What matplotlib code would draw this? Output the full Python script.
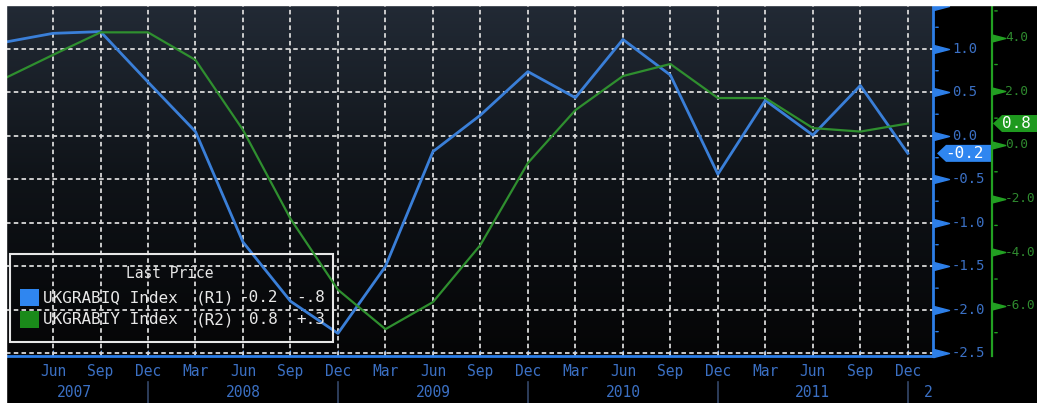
import numpy as np
import matplotlib
matplotlib.use("Agg")
import matplotlib.pyplot as plt
import matplotlib.transforms as mtransforms
from matplotlib.patches import Rectangle, Polygon
from matplotlib.path import Path
from matplotlib.spines import Spine
from matplotlib.colors import LinearSegmentedColormap

# quarterly points, Mar 2007 .. Dec 2011
quarters = ["Mar", "Jun", "Sep", "Dec"] * 5
years = [2007, 2008, 2009, 2010, 2011]
blue_q = [1.08, 1.18, 1.20, 0.62, 0.05, -1.22, -1.90, -2.27, -1.50, -0.18,
          0.24, 0.74, 0.44, 1.11, 0.70, -0.44, 0.41, 0.01, 0.58, -0.20]
green_y = [2.5, 3.36, 4.2, 4.2, 3.17, 0.56, -2.75, -5.4, -6.87, -5.86,
           -3.73, -0.67, 1.3, 2.57, 3.02, 1.75, 1.75, 0.63, 0.5, 0.8]
r1_ticks = [1.0, 0.5, 0.0, -0.5, -1.0, -1.5, -2.0, -2.5]
r2_ticks = [4.0, 2.0, 0.0, -2.0, -4.0, -6.0]
name1 = "UKGRABIQ Index"
name2 = "UKGRABIY Index"

BLUE = "#3a7fd8"
BLUE_AX = "#2d7fe8"
BLUE_TXT = "#3b70c4"
GREEN = "#2f8f2f"
GREEN_AX = "#22a022"
GREEN_TXT = "#2f8a2f"
MONO = "DejaVu Sans Mono"

W, H = 1037, 403
fig = plt.figure(figsize=(W / 100, H / 100), dpi=100, facecolor="black")
# axes box in pixels: x 6..933, y 5..356 (from top)
ax = fig.add_axes([6 / W, (H - 356) / H, 927 / W, 351 / H])
fig.patches.append(Rectangle((0, (H - 5) / H), 1, 5 / H, transform=fig.transFigure,
                             color="white", zorder=10))
fig.patches.append(Rectangle((0, 0), 6 / W, 1, transform=fig.transFigure,
                             color="white", zorder=10))

# background gradient
cmap = LinearSegmentedColormap.from_list("bg", ["#050506", "#0f1318", "#222a35"])
grad = np.linspace(0, 1, 256).reshape(-1, 1)
ax.imshow(grad, extent=[0, 1, 0, 1], transform=ax.transAxes, aspect="auto",
          cmap=cmap, origin="lower", zorder=0)

x = np.arange(len(blue_q))
ax.plot(x, blue_q, color=BLUE, lw=2.0, zorder=4)
ax.set_xlim(0.01, 19.53)
ax.set_ylim(-2.53, 1.506)

ax2 = ax.twinx()
ax2.plot(x, green_y, color=GREEN, lw=1.6, zorder=3)
ax2.set_ylim(-7.87, 5.22)
ax2.set_xlim(0.01, 19.53)

# grid
for q in x[1:]:
    ax.axvline(q, color="#d9d9d9", lw=1.3, ls=(0, (2.5, 1.8)), zorder=2)
for v in r1_ticks:
    ax.axhline(v, color="#d9d9d9", lw=1.3, ls=(0, (2.5, 1.8)), zorder=2)

# spines
for s in ["left", "top"]:
    ax.spines[s].set_visible(False)
    ax2.spines[s].set_visible(False)
ax2.spines["bottom"].set_visible(False)
ax.spines["right"].set_visible(False)
ax.spines["bottom"].set_color(BLUE_AX)
ax.spines["bottom"].set_linewidth(2)
ax2.spines["right"].set_color(BLUE_AX)
ax2.spines["right"].set_linewidth(2)

# second spine for green axis
gsp = Spine.linear_spine(ax2, "right")
gsp.set_position(("outward", 59 * 0.72))
gsp.set_color(GREEN_AX)
gsp.set_linewidth(1.6)
ax2.spines["green"] = gsp

# x ticks
ax.set_xticks(x[1:])
ax.set_xticklabels(quarters[1:], fontfamily=MONO, fontsize=10.5, color=BLUE_TXT)
ax.tick_params(axis="x", colors=BLUE_AX, direction="in", length=4, pad=6)
for lab in ax.get_xticklabels():
    lab.set_color(BLUE_TXT)
ax.set_yticks([])

# year labels and separators
xtr = ax.get_xaxis_transform()
year_pos = [1.45, 5, 9, 13, 17]
for yr, p in zip(years, year_pos):
    ax.text(p, -0.105, str(yr), transform=xtr, ha="center", va="center",
            fontfamily=MONO, fontsize=10.5, color=BLUE_TXT, clip_on=False)
ax.text(19.42, -0.105, "2", transform=xtr, ha="center", va="center",
        fontfamily=MONO, fontsize=10.5, color=BLUE_TXT, clip_on=False)
for q in [3, 7, 11, 15, 19]:
    ax.plot([q, q], [-0.074, -0.14], transform=xtr, color="#34486a", lw=1.2,
            clip_on=False)

# right axis ticks (blue R1)
spike = Path([(0, -0.26), (0, 0.26), (1, 0), (0, -0.26)])
ytr = ax.get_yaxis_transform()
ax.plot([1] * len(r1_ticks), r1_ticks, transform=ytr, ls="none", marker=spike,
        ms=23, color=BLUE_AX, clip_on=False, zorder=6)
minor1 = np.arange(-2.25, 1.6, 0.5)
for v in minor1:
    ax.annotate("", xy=(1, v), xycoords=ytr, xytext=(8, 0),
                textcoords="offset pixels",
                arrowprops=dict(arrowstyle="-", color=BLUE_AX, lw=1))
ax.plot([1], [1.5], transform=ytr, ls="none", marker=spike, ms=23,
        color=BLUE_AX, clip_on=False, zorder=6)
for v in r1_ticks:
    ax.annotate(f"{v:.1f}", xy=(1, v), xycoords=ytr, xytext=(19, 0),
                textcoords="offset pixels", ha="left", va="center",
                fontfamily=MONO, fontsize=10, color=BLUE_TXT)

# right axis ticks (green R2)
ytr2 = ax2.get_yaxis_transform()
gx = 1 + 59 / 927
ax2.set_yticks([])
ax2.plot([gx] * len(r2_ticks), r2_ticks, transform=ytr2, ls="none", marker=spike,
         ms=19, color=GREEN_AX, clip_on=False, zorder=6)
for v in [5, 3, 1, -1, -3, -5, -7]:
    ax2.annotate("", xy=(gx, v), xycoords=ytr2, xytext=(8, 0),
                 textcoords="offset pixels",
                 arrowprops=dict(arrowstyle="-", color=GREEN_AX, lw=1))
for v in r2_ticks:
    ax2.annotate(f"{v:.1f}", xy=(gx, v), xycoords=ytr2, xytext=(13, 0),
                 textcoords="offset pixels", ha="left", va="center",
                 fontfamily=MONO, fontsize=9.2, color=GREEN_TXT)

# last value tags
def tag(axis, xa, v, x0, x1, tx, color, txt):
    anchor = mtransforms.ScaledTranslation(xa, v, axis.get_yaxis_transform())
    tr = mtransforms.Affine2D() + anchor
    poly = Polygon([(x0, 0), (x0 + 9, 8.5), (x1, 8.5), (x1, -8.5), (x0 + 9, -8.5)],
                   closed=True, transform=tr, facecolor=color, edgecolor="none",
                   clip_on=False, zorder=8)
    axis.add_artist(poly)
    axis.annotate(txt, xy=(xa, v), xycoords=axis.get_yaxis_transform(),
                  xytext=(tx, 0), textcoords="offset pixels",
                  ha="center", va="center", fontfamily=MONO, fontsize=11.5,
                  color="white", zorder=9)

tag(ax, 1, blue_q[-1], 4, 59, 31, "#2f86f0", f"{blue_q[-1]:.1f}")
tag(ax2, gx, green_y[-1], 1, 60, 24, "#1f9a1f", f"{green_y[-1]:.1f}")

# legend table
def chg(series):
    s = f"{series[-1] - series[-2]:+.1f}"
    return s.replace("0.", ".")

def px(xp, yp):
    return (xp - 6) / 927, (356 - yp) / 351

bx0, by0 = px(10, 342)
bx1, by1 = px(333, 254)
ax.add_patch(Rectangle((bx0, by0), bx1 - bx0, by1 - by0, transform=ax.transAxes,
                       fill=False, edgecolor="#e8e8e8", lw=1.5, zorder=7,
                       clip_on=False))
tx, ty = px(170, 274)
ax.text(tx, ty, "Last Price", transform=ax.transAxes, ha="center", va="center",
        fontfamily=MONO, fontsize=10.5, color="#e8e8e8", zorder=7)
rows = [(name1, "(R1)", blue_q, "#2f86f0", 298), (name2, "(R2)", green_y, "#1a8a1a", 320)]
for nm, r, ser, col, yp in rows:
    sx, sy = px(20, yp + 8)
    ax.add_patch(Rectangle((sx, sy), 19 / 927, 17 / 351, transform=ax.transAxes,
                           facecolor=col, edgecolor="none", zorder=7))
    for xp, t, ha in [(43, nm, "left"), (196, r, "left"),
                      (278, f"{ser[-1]:.1f}", "right"), (325, chg(ser), "right")]:
        a, b = px(xp, yp)
        ax.text(a, b, t, transform=ax.transAxes, ha=ha, va="center",
                fontfamily=MONO, fontsize=11.5, color="#e8e8e8", zorder=7)

fig.savefig("out.png", dpi=100, facecolor="black")
